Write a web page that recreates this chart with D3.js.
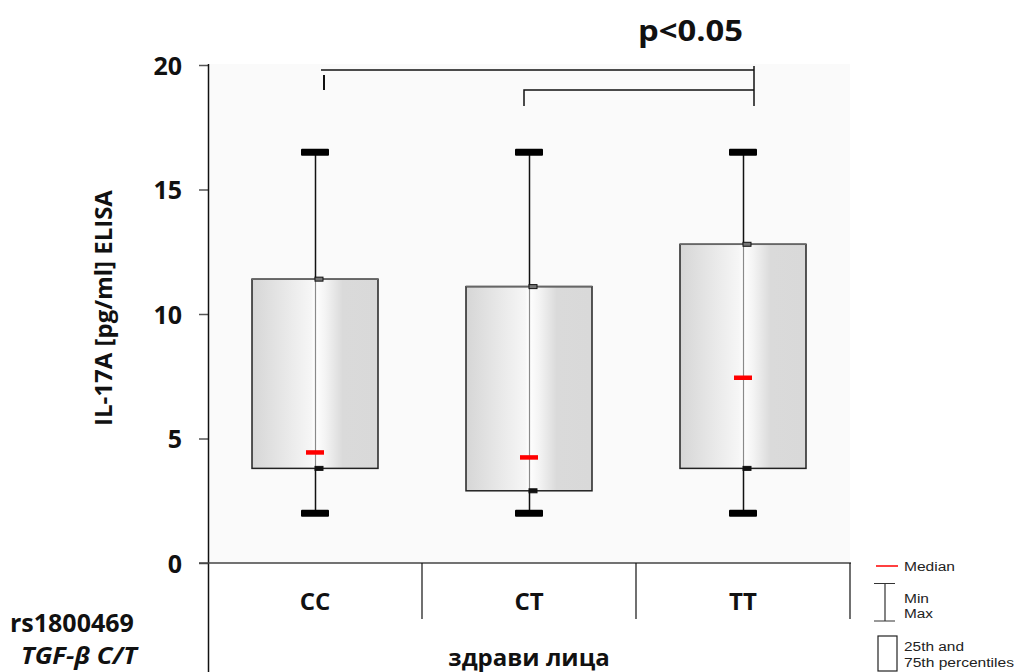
<!DOCTYPE html>
<html><head><meta charset="utf-8">
<script src="https://cdn.jsdelivr.net/npm/d3@7"></script>
<style>body{margin:0;background:#fff}svg{display:block}</style>
</head><body>
<svg id="c" width="1016" height="672"></svg>
<script>
const categories = ["CC", "CT", "TT"];
const minVals = [2.0, 2.0, 2.0];
const q1Vals = [3.8, 2.9, 3.8];
const medianVals = [4.45, 4.25, 7.45];
const q3Vals = [11.4, 11.1, 12.8];
const maxVals = [16.5, 16.5, 16.5];
const yTicks = [0, 5, 10, 15, 20];
const groupLabel = "здрави лица";
const yTitle = "IL-17A [pg/ml] ELISA";
const sigLabel = "p<0.05";
const snpLabel = "rs1800469";
const geneLabel = "TGF-β C/T";
const legendLabels = ["Median", "Min", "Max", "25th and", "75th percentiles"];

const data = categories.map((c, i) => ({c, min: minVals[i], q1: q1Vals[i], med: medianVals[i], q3: q3Vals[i], max: maxVals[i]}));

const svg = d3.select("#c");
const font = "'Open Sans', Lato, sans-serif";
const x = d3.scaleBand().domain(categories).range([208, 850]).padding(0);
const y = d3.scaleLinear().domain([0, 20]).range([563, 65]);

// gradient
const defs = svg.append("defs");
const g = defs.append("linearGradient").attr("id", "bx").attr("x1", "0").attr("x2", "1").attr("y1", "0").attr("y2", "0");
[[0, "#d6d6d6"], [0.47, "#f6f6f6"], [0.5, "#ffffff"], [0.58, "#f4f4f4"], [0.72, "#dadada"], [1, "#d9d9d9"]]
  .forEach(([o, col]) => g.append("stop").attr("offset", o).attr("stop-color", col));

// plot background
svg.append("rect").attr("x", 209).attr("y", y(20) - 1).attr("width", 850 - 209).attr("height", y(0) - y(20) + 1).attr("fill", "#fafafa");

// y axis
const yAxis = d3.axisLeft(y).tickValues(yTicks).tickSize(10).tickPadding(17);
const ya = svg.append("g").attr("transform", "translate(209,0)").call(yAxis);
ya.select(".domain").remove();
ya.selectAll(".tick line").attr("stroke", "#555").attr("stroke-width", 1.5);
ya.selectAll(".tick text").attr("font-family", font).attr("font-weight", "bold").attr("font-size", 25).attr("fill", "#111").attr("dy", "0.36em");
svg.append("line").attr("x1", 208.5).attr("x2", 208.5).attr("y1", y(20) - 1).attr("y2", 672).attr("stroke", "#111").attr("stroke-width", 1.5);
// x axis line
svg.append("line").attr("x1", 199).attr("x2", 851).attr("y1", y(0)).attr("y2", y(0)).attr("stroke", "#444").attr("stroke-width", 1.5);
// category separators
categories.forEach(c => {
  svg.append("line").attr("x1", x(c) + x.bandwidth()).attr("x2", x(c) + x.bandwidth()).attr("y1", y(0)).attr("y2", 619).attr("stroke", "#111").attr("stroke-width", 1.2);
});
svg.append("g").selectAll("text").data(categories).join("text")
  .attr("x", d => x(d) + x.bandwidth() / 2).attr("y", 610).attr("text-anchor", "middle")
  .attr("font-family", font).attr("font-weight", "bold").attr("font-size", 24).attr("fill", "#111").text(d => d);

svg.append("text").attr("x", x("CT") + x.bandwidth() / 2).attr("y", 666).attr("text-anchor", "middle")
  .attr("font-family", font).attr("font-weight", "bold").attr("font-size", 24).attr("fill", "#111").text(groupLabel);
svg.append("text").attr("x", 10).attr("y", 632).attr("font-family", font).attr("font-weight", "bold").attr("font-size", 25).attr("fill", "#111").text(snpLabel);
svg.append("text").attr("x", 21).attr("y", 664).attr("font-family", font).attr("font-weight", "bold").attr("font-style", "italic").attr("font-size", 23)
  .attr("textLength", 116).attr("lengthAdjust", "spacingAndGlyphs").attr("fill", "#111").text(geneLabel);

// y title
svg.append("text").attr("transform", `translate(112,308) rotate(-90)`).attr("text-anchor", "middle")
  .attr("font-family", font).attr("font-weight", "bold").attr("font-size", 24).attr("fill", "#111").text(yTitle);

// boxes
const bw = 126;
const bg = svg.append("g").selectAll("g").data(data).join("g").attr("transform", d => `translate(${x(d.c) + x.bandwidth() / 2},0)`);
bg.append("line").attr("x1", 0.5).attr("x2", 0.5).attr("y1", d => y(d.max)).attr("y2", d => y(d.min)).attr("stroke", "#111").attr("stroke-width", 1.5);
bg.append("rect").attr("x", -bw / 2).attr("width", bw).attr("y", d => y(d.q3)).attr("height", d => y(d.q1) - y(d.q3))
  .attr("fill", "url(#bx)").attr("stroke", "#222").attr("stroke-width", 1.5);
bg.append("line").attr("x1", -bw / 2).attr("x2", bw / 2).attr("y1", d => y(d.q3)).attr("y2", d => y(d.q3)).attr("stroke", "#666").attr("stroke-width", 1.5);
bg.append("line").attr("x1", 0.5).attr("x2", 0.5).attr("y1", d => y(d.q3)).attr("y2", d => y(d.q1)).attr("stroke", "#8a8a8a").attr("stroke-width", 1.2);
// caps
bg.append("rect").attr("x", -14).attr("width", 28).attr("y", d => y(d.max) - 3.5).attr("height", 7).attr("rx", 1).attr("fill", "#000");
bg.append("rect").attr("x", -14).attr("width", 28).attr("y", d => y(d.min) - 3.5).attr("height", 7).attr("rx", 1).attr("fill", "#000");
// small quartile marks
bg.append("rect").attr("x", 0).attr("width", 8).attr("y", d => y(d.q3) - 2).attr("height", 4).attr("fill", "#777").attr("stroke", "#111").attr("stroke-width", 1);
bg.append("rect").attr("x", 0).attr("width", 8).attr("y", d => y(d.q1) - 2).attr("height", 4).attr("fill", "#111").attr("stroke", "#111").attr("stroke-width", 1);
// median
bg.append("rect").attr("x", -9).attr("width", 18).attr("y", d => y(d.med) - 2).attr("height", 4.5).attr("fill", "#f00");

// significance brackets
const cx = c => x(c) + x.bandwidth() / 2;
const rightX = cx("TT") + 11;
svg.append("line").attr("x1", cx("CC") + 6).attr("x2", rightX).attr("y1", 70).attr("y2", 70).attr("stroke", "#111").attr("stroke-width", 1.5);
svg.append("line").attr("x1", cx("CC") + 9).attr("x2", cx("CC") + 9).attr("y1", 75).attr("y2", 90).attr("stroke", "#111").attr("stroke-width", 2);
svg.append("path").attr("d", `M${cx("CT") - 5},106 V90 H${rightX}`).attr("fill", "none").attr("stroke", "#111").attr("stroke-width", 1.5);
svg.append("line").attr("x1", rightX).attr("x2", rightX).attr("y1", 66).attr("y2", 106).attr("stroke", "#111").attr("stroke-width", 1.5);
svg.append("text").attr("x", 638).attr("y", 41).attr("font-family", font).attr("font-weight", "bold").attr("font-size", 29)
  .attr("textLength", 105).attr("lengthAdjust", "spacingAndGlyphs").attr("fill", "#111").text(sigLabel);

// legend
const lf = "Arial, 'Liberation Sans', sans-serif";
const lg = svg.append("g");
lg.append("line").attr("x1", 876).attr("x2", 898).attr("y1", 566).attr("y2", 566).attr("stroke", "#f00").attr("stroke-width", 1.5);
lg.append("path").attr("d", "M874,583.5 H895 M885,583.5 V621 M874,621 H895").attr("stroke", "#333").attr("stroke-width", 1.2).attr("fill", "none");
lg.append("rect").attr("x", 878).attr("y", 636).attr("width", 19).attr("height", 35).attr("fill", "#fff").attr("stroke", "#222").attr("stroke-width", 1.2);
const legPos = [[571, 51], [603, 25], [618, 29], [651, 60], [667, 110]];
legendLabels.forEach((t, i) => {
  lg.append("text").attr("x", 904).attr("y", legPos[i][0]).attr("font-family", lf).attr("font-size", 12)
    .attr("textLength", legPos[i][1]).attr("lengthAdjust", "spacingAndGlyphs").attr("fill", "#222").text(t);
});
</script>
</body></html>
